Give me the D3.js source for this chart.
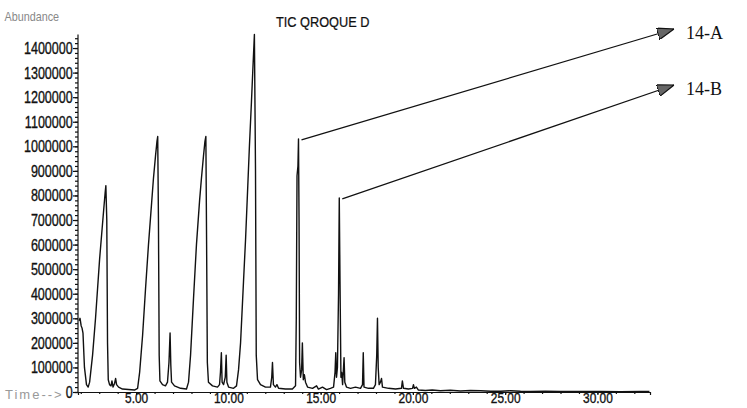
<!DOCTYPE html>
<html>
<head>
<meta charset="utf-8">
<script src="https://cdn.jsdelivr.net/npm/d3@7"></script>
<style>
    body { margin: 0; background: #fff; }
    #chart { width: 747px; height: 408px; }
    .tick text { font-family: "Liberation Sans", Arial, sans-serif; }
</style>
</head>
<body>
<div id="chart"></div>
<script>

// retention time (min)
const signalTime = [1.91, 1.96, 2.02, 2.07, 2.12, 2.20, 2.31, 2.40, 2.48, 2.64, 2.80, 2.91, 3.02, 3.13, 3.24, 3.32, 3.36, 3.41, 3.45, 3.49,
    3.56, 3.64, 3.69, 3.75, 3.83, 3.89, 3.94, 4.05, 4.26, 4.59, 4.91, 5.08, 5.19, 5.35, 5.51, 5.67, 5.84, 5.94, 6.05, 6.13,
    6.17, 6.21, 6.25, 6.29, 6.43, 6.59, 6.70, 6.78, 6.84, 6.88, 6.92, 7.08, 7.41, 7.73, 7.84, 7.95, 8.11, 8.27, 8.44, 8.54,
    8.65, 8.73, 8.78, 8.82, 8.86, 8.92, 9.14, 9.41, 9.52, 9.57, 9.62, 9.66, 9.74, 9.83, 9.88, 9.92, 10.01, 10.28, 10.44, 10.55,
    10.66, 10.82, 10.93, 11.03, 11.14, 11.25, 11.33, 11.39, 11.41, 11.47, 11.51, 11.58, 11.74, 12.01, 12.28, 12.35, 12.39, 12.44, 12.55, 12.63,
    12.72, 13.09, 13.47, 13.64, 13.68, 13.72, 13.77, 13.80, 13.83, 13.86, 13.91, 13.97, 14.01, 14.06, 14.12, 14.18, 14.29, 14.56, 14.78, 14.88,
    15.10, 15.32, 15.53, 15.70, 15.78, 15.82, 15.86, 15.91, 15.97, 16.01, 16.05, 16.10, 16.14, 16.19, 16.27, 16.31, 16.40, 16.62, 16.89, 17.16,
    17.27, 17.31, 17.35, 17.59, 17.86, 17.97, 18.04, 18.08, 18.12, 18.17, 18.24, 18.30, 18.35, 18.68, 19.06, 19.38, 19.43, 19.49, 19.76, 19.98,
    20.03, 20.08, 20.19, 20.30, 20.68, 21.05, 21.49, 22.03, 22.58, 23.12, 23.67, 24.21, 24.75, 25.29, 25.83, 26.37, 27.18, 28.00, 29.08, 30.17,
    31.25, 32.33, 32.82];

// abundance at each time above
const signalAbundance = [290000, 300000, 270000, 260000, 240000, 100000, 30000, 20000, 40000, 150000, 300000, 420000, 540000, 640000, 740000, 810000, 840000, 700000, 200000, 50000,
    30000, 25000, 45000, 20000, 35000, 55000, 30000, 20000, 12000, 10000, 8000, 15000, 80000, 230000, 420000, 600000, 770000, 870000, 960000, 1020000,
    1040000, 700000, 150000, 45000, 30000, 25000, 40000, 120000, 240000, 110000, 40000, 25000, 15000, 12000, 40000, 150000, 380000, 600000, 780000, 870000,
    960000, 1020000, 1040000, 600000, 120000, 40000, 25000, 20000, 30000, 80000, 160000, 40000, 30000, 60000, 150000, 40000, 20000, 15000, 25000, 90000,
    200000, 450000, 620000, 800000, 1000000, 1180000, 1320000, 1420000, 1455000, 900000, 150000, 50000, 30000, 20000, 20000, 60000, 120000, 30000, 20000, 30000,
    15000, 12000, 12000, 25000, 300000, 880000, 920000, 1030000, 700000, 120000, 60000, 90000, 200000, 50000, 70000, 40000, 20000, 15000, 25000, 12000,
    20000, 10000, 15000, 20000, 80000, 160000, 60000, 100000, 400000, 790000, 450000, 60000, 80000, 30000, 140000, 40000, 20000, 15000, 20000, 15000,
    30000, 160000, 20000, 15000, 15000, 30000, 150000, 300000, 100000, 30000, 40000, 55000, 20000, 15000, 12000, 15000, 45000, 15000, 12000, 15000,
    30000, 15000, 20000, 8000, 6000, 8000, 5000, 7000, 4000, 6000, 5000, 3000, 3000, 5000, 3000, 2000, 3000, 2000, 2000, 2000,
    1500, 2000, 2000];

const xTickValues = [5, 10, 15, 20, 25, 30];
const yTickValues = [0, 100000, 200000, 300000, 400000, 500000, 600000, 700000, 800000, 900000, 1000000, 1100000, 1200000, 1300000, 1400000];

// labelled peaks
const peakLabels = ["14-A", "14-B"];
const peakTimes = [13.80, 16.01];
const peakHeights = [1030000, 790000];

const titleText = "TIC QROQUE D";


class Chromatogram {

    constructor(_parentElement) {
        this.parentElement = _parentElement;
        this.data = signalTime.map((t, i) => ({time: t, abundance: signalAbundance[i]}));
        this.initVis();
    }

    initVis() {
        let vis = this;

        vis.width = 747;
        vis.height = 408;

        vis.svg = d3.select("#" + vis.parentElement).append("svg")
            .attr("width", vis.width)
            .attr("height", vis.height);

        vis.svg.append("rect")
            .attr("width", vis.width)
            .attr("height", vis.height)
            .attr("fill", "#fff");

        vis.x = d3.scaleLinear()
            .domain([1.85, 32.85])
            .range([78, 650]);

        vis.y = d3.scaleLinear()
            .domain([0, 1460000])
            .range([392, 33.3]);

        // minor ticks first, labels on top
        vis.svg.append("g")
            .attr("transform", "translate(78,0)")
            .call(d3.axisLeft(vis.y).tickValues(d3.range(0, 1440001, 20000)).tickSize(3).tickFormat(""))
            .call(g => g.select(".domain").remove());

        vis.yAxis = vis.svg.append("g")
            .attr("transform", "translate(78,0)")
            .call(d3.axisLeft(vis.y).tickValues(yTickValues).tickSize(5).tickPadding(2).tickFormat(d3.format("d")));

        vis.yAxis.select(".domain").attr("d", "M0," + vis.y(1455000) + "V" + vis.y(0));

        vis.svg.append("g")
            .attr("transform", "translate(0,392)")
            .call(d3.axisBottom(vis.x).tickValues(d3.range(2, 33, 1)).tickSize(2).tickFormat(""))
            .call(g => g.select(".domain").remove());

        vis.xAxis = vis.svg.append("g")
            .attr("transform", "translate(0,392)")
            .call(d3.axisBottom(vis.x).tickValues(xTickValues).tickSize(3).tickPadding(0).tickFormat(d3.format(".2f")));

        // the scan uses a narrow, heavy face: squeeze the labels sideways
        vis.yAxis.selectAll(".tick text")
            .attr("font-size", 17)
            .attr("transform", "scale(0.74,1)");

        vis.xAxis.selectAll(".tick text")
            .attr("font-size", 14)
            .attr("dy", "0.6em")
            .attr("transform", "scale(0.85,1)");

        vis.svg.selectAll(".tick text")
            .attr("fill", "#111")
            .attr("stroke", "#111")
            .attr("stroke-width", 0.35);
        vis.svg.selectAll(".domain, .tick line").attr("stroke", "#111").attr("stroke-width", 1.2);

        vis.svg.append("text")
            .attr("x", 5).attr("y", 21)
            .attr("font-family", "Liberation Sans, Arial, sans-serif")
            .attr("font-size", 12)
            .attr("transform", "scale(0.9,1)")
            .attr("fill", "#888")
            .text("Abundance");

        vis.svg.append("text")
            .attr("x", 5).attr("y", 399)
            .attr("font-family", "Liberation Sans, Arial, sans-serif")
            .attr("font-size", 13)
            .attr("letter-spacing", 2)
            .attr("fill", "#999")
            .text("Time-->");

        vis.svg.append("text")
            .attr("x", 276 / 0.85).attr("y", 27)
            .attr("font-family", "Liberation Sans, Arial, sans-serif")
            .attr("font-size", 15)
            .attr("transform", "scale(0.85,1)")
            .attr("fill", "#111")
            .attr("stroke", "#111")
            .attr("stroke-width", 0.25)
            .text(titleText);

        vis.drawTrace();
        vis.drawAnnotations();
    }

    drawTrace() {
        let vis = this;

        let line = d3.line()
            .x(d => vis.x(d.time))
            .y(d => vis.y(d.abundance));

        vis.svg.append("path")
            .datum(vis.data)
            .attr("fill", "none")
            .attr("stroke", "#111")
            .attr("stroke-width", 1.4)
            .attr("stroke-linejoin", "round")
            .attr("d", line);
    }

    drawAnnotations() {
        let vis = this;

        vis.svg.append("defs").append("marker")
            .attr("id", "arrow")
            .attr("viewBox", "0 0 14 10")
            .attr("refX", 14).attr("refY", 5)
            .attr("markerWidth", 17).attr("markerHeight", 12)
            .attr("markerUnits", "userSpaceOnUse")
            .attr("orient", "auto")
            .append("path")
            .attr("d", "M0,0L14,5L0,10Z")
            .attr("fill", "#666")
            .attr("stroke", "#111")
            .attr("stroke-width", 1);

        // arrow tips sit just left of the labels
        let tipY = [29, 85];

        peakLabels.forEach((lab, i) => {
            vis.svg.append("line")
                .attr("x1", vis.x(peakTimes[i]) + 3)
                .attr("y1", vis.y(peakHeights[i]) + 1)
                .attr("x2", 674)
                .attr("y2", tipY[i])
                .attr("stroke", "#111")
                .attr("stroke-width", 1.3)
                .attr("marker-end", "url(#arrow)");

            vis.svg.append("text")
                .attr("x", 686)
                .attr("y", tipY[i] + 10)
                .attr("font-family", "Liberation Serif, Times New Roman, serif")
                .attr("font-size", 18)
                .attr("fill", "#111")
                .text(lab);
        });
    }
}

new Chromatogram("chart");

</script>
</body>
</html>
